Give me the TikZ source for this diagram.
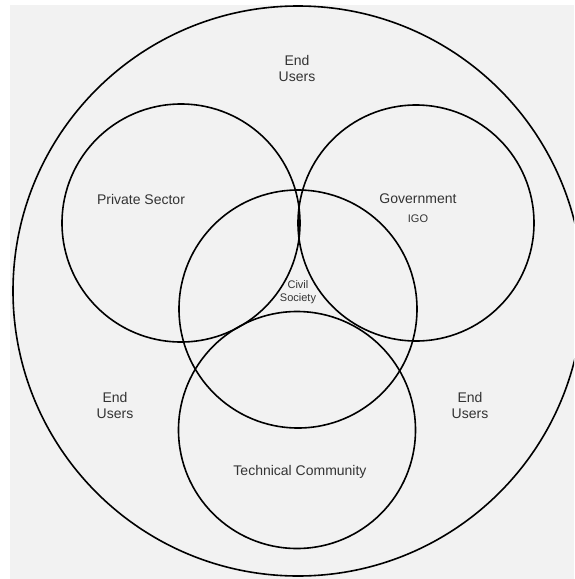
\documentclass[tikz,border=0pt]{standalone}
\usepackage{fontspec}
\setmainfont{Liberation Sans}
\begin{document}
\begin{tikzpicture}[x=1pt,y=-1pt,
  ring/.style={circle,draw=black,line width=1.6pt,inner sep=0pt,minimum size=#1},
  lbl/.style={text=black!80,font=\fontsize{14}{16}\selectfont,align=center,inner sep=0pt},
  small/.style={text=black!80,font=\fontsize{11}{13}\selectfont,align=center,inner sep=0pt}]
\useasboundingbox (0,0) rectangle (574,579);
\fill[white] (0,0) rectangle (574,579);
\fill[black!5] (10,5) rectangle (574,579);
\begin{scope}
\clip (0,0) rectangle (574,579);
\node[ring=570pt] (outer) at (298,291) {};
\end{scope}
\node[ring=238pt] (private) at (181,223) {};
\node[ring=236pt] (gov) at (416,223) {};
\node[ring=238pt] (civil) at (298,309) {};
\node[ring=237pt] (tech) at (297,430) {};
\node[lbl] (eutop) at (297,68) {End\\Users};
\node[lbl] (euleft) at (115,405) {End\\Users};
\node[lbl] (euright) at (470,405) {End\\Users};
\node[lbl] (tprivate) at (141,199) {Private Sector};
\node[lbl] (tgov) at (418,199) {Government};
\node[small] (tigo) at (418,219) {IGO};
\node[small] (tcivil) at (298,292) {Civil\\Society};
\node[lbl] (ttech) at (300,472) {Technical Community};
\end{tikzpicture}
\end{document}
